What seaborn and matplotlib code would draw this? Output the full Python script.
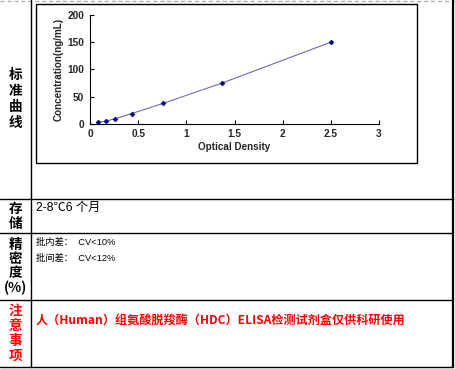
import matplotlib
matplotlib.use("Agg")
import matplotlib.pyplot as plt
import seaborn as sns
import pandas as pd
from matplotlib.lines import Line2D
from matplotlib.patches import Rectangle

# ---- data ----
od = [0.086, 0.166, 0.263, 0.436, 0.761, 1.374, 2.50]
conc = [2.34, 4.69, 9.38, 18.75, 37.5, 75.0, 150.0]
x_ticks = [0, 0.5, 1, 1.5, 2, 2.5, 3]
x_tick_labels = ["0", "0.5", "1", "1.5", "2", "2.5", "3"]
y_ticks = [0, 50, 100, 150, 200]
y_tick_labels = ["0", "50", "100", "150", "200"]
row_labels = ["标\n准\n曲\n线", "存\n储", "精\n密\n度\n(%)", "注\n意\n事\n项"]
storage_text = "2-8℃6 个月"
precision_lines = ["批内差：  CV<10%", "批间差：  CV<12%"]
note_text = "人（Human）组氨酸脱羧酶（HDC）ELISA检测试剂盒仅供科研使用"

sns.set_theme(style="white")
plt.rcParams['font.family'] = ['Liberation Sans', 'Noto Sans CJK SC', 'DejaVu Sans']

W, H = 455, 369
fig = plt.figure(figsize=(W / 100, H / 100), dpi=100)
fig.patch.set_facecolor("white")

def fx(x):
    return x / W

def fy(y):
    return 1 - y / H

def hline(x0, x1, y, **kw):
    fig.add_artist(Line2D([fx(x0), fx(x1)], [fy(y), fy(y)], transform=fig.transFigure, **kw))

def vline(x, y0, y1, **kw):
    fig.add_artist(Line2D([fx(x), fx(x)], [fy(y0), fy(y1)], transform=fig.transFigure, **kw))

# table lines
hline(0, 455, 0.8, color="#b0b0b0", lw=1.0, linestyle=(0, (3, 2)))
for yy in [199, 233, 300, 367]:
    hline(0, 453, yy, color="black", lw=1.0)
vline(31, 0, 367, color="black", lw=1.0)
vline(453, 0, 367, color="black", lw=1.6)

# chart area frame
fig.add_artist(Rectangle((fx(36), fy(163)), fx(417) - fx(36), fy(4) - fy(163),
                         transform=fig.transFigure, fill=False, edgecolor="black", lw=1.0))

# plot axes
ax = fig.add_axes([fx(90), fy(123.7), fx(379) - fx(90), fy(15) - fy(123.7)])
df = pd.DataFrame({"od": od, "conc": conc})
sns.lineplot(data=df, x="od", y="conc", ax=ax, color="#6b6bbd", lw=0.8,
             marker="D", markersize=2.6, markerfacecolor="#00007a",
             markeredgecolor="#00007a", markeredgewidth=0.3)
ax.set_xlim(0, 3)
ax.set_ylim(0, 200)
ax.set_xticks(x_ticks)
ax.set_xticklabels(x_tick_labels, fontweight="bold", fontsize=7.3)
ax.set_yticks(y_ticks)
ax.set_yticklabels(y_tick_labels, fontweight="bold", fontsize=7.3)
for s in ["top", "right"]:
    ax.spines[s].set_visible(False)
for s in ["left", "bottom"]:
    ax.spines[s].set_color("black")
    ax.spines[s].set_linewidth(0.8)
ax.tick_params(direction="in", length=3, width=0.8, color="black",
               pad=4, bottom=True, left=True)
ax.set_xlabel("Optical Density", fontsize=7.1, fontweight="bold", labelpad=2)
ax.set_ylabel("Concentration(ng/mL)", fontsize=7.1, fontweight="bold", labelpad=3)
ax.set_facecolor("white")

# left column labels
cjk = ['Noto Sans CJK SC', 'DejaVu Sans']
fig.text(fx(15.5), fy(99), row_labels[0], ha="center", va="center", fontsize=9.8,
         fontweight="bold", family=cjk, linespacing=1.2, color="black")
fig.text(fx(15.5), fy(216.5), row_labels[1], ha="center", va="center", fontsize=9.8,
         fontweight="bold", family=cjk, linespacing=1.1, color="black")
fig.text(fx(15.5), fy(266.5), row_labels[2], ha="center", va="center", fontsize=9.8,
         fontweight="bold", family=cjk, linespacing=1.05, color="black")
fig.text(fx(15.5), fy(333.5), row_labels[3], ha="center", va="center", fontsize=9.8,
         fontweight="bold", family=cjk, linespacing=1.1, color="#ff0000")

# right column texts
mixed = ['Liberation Sans', 'Noto Sans CJK SC', 'DejaVu Sans']
fig.text(fx(36), fy(208), storage_text, ha="left", va="center", fontsize=8.8,
         family=mixed, color="black")
fig.text(fx(36), fy(242), precision_lines[0], ha="left", va="center", fontsize=6.7,
         family=mixed, color="black")
fig.text(fx(36), fy(258), precision_lines[1], ha="left", va="center", fontsize=6.7,
         family=mixed, color="black")
fig.text(fx(36), fy(320), note_text, ha="left", va="center", fontsize=8.7,
         fontweight="bold", family=cjk, color="#ff0000")

fig.savefig("out.png", dpi=100, facecolor="white")
